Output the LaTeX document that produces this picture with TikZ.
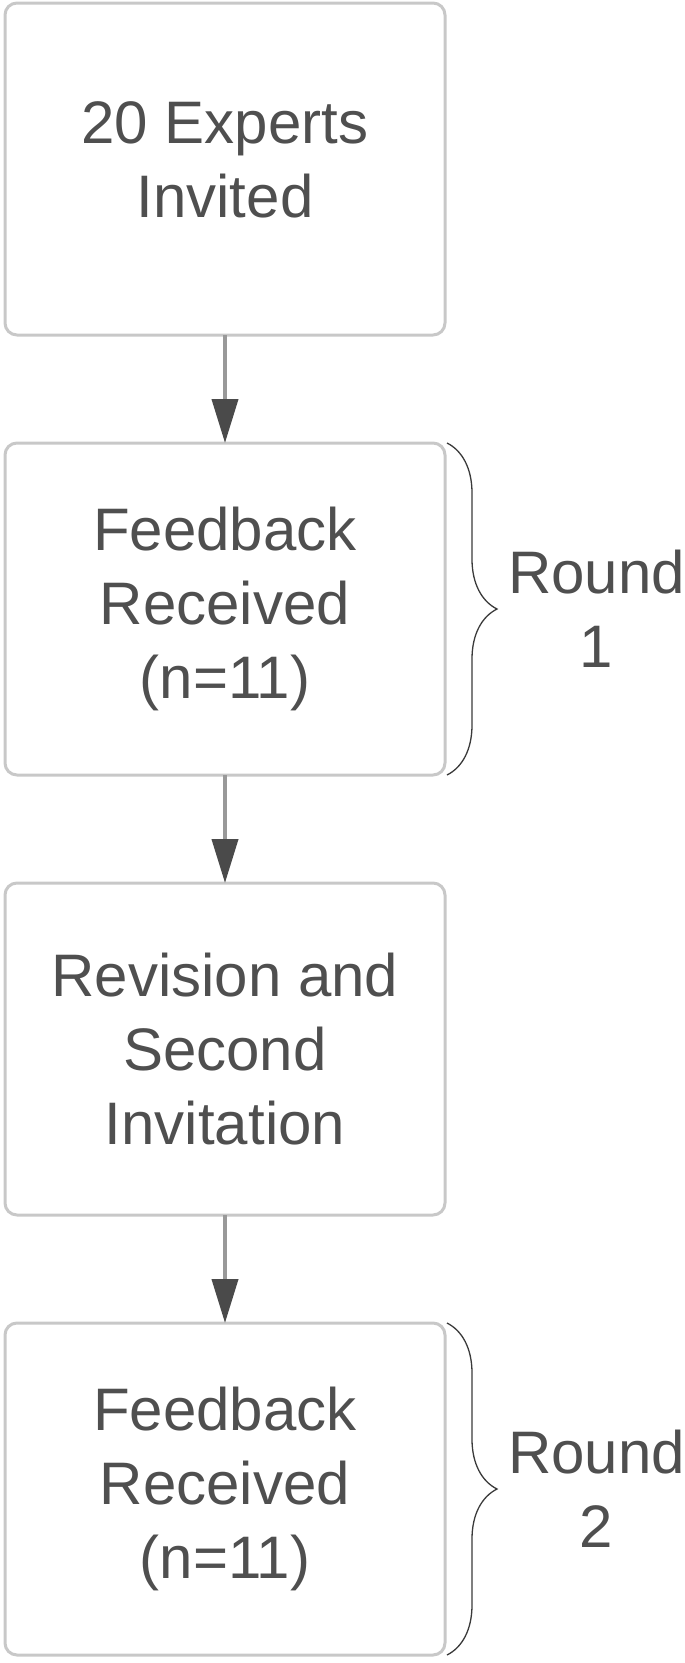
\documentclass[tikz,border=0pt]{standalone}
\usepackage{fontspec}
\setmainfont{Liberation Sans}
\usetikzlibrary{arrows.meta, positioning, calc, decorations.pathreplacing}
\definecolor{boxgrey}{HTML}{C8C8C8}
\definecolor{linegrey}{HTML}{999999}
\definecolor{tipgrey}{HTML}{4A4A4A}
\definecolor{textgrey}{HTML}{4F4F4F}
\definecolor{bracegrey}{HTML}{3A3A3A}

\begin{document}
\begin{tikzpicture}[x=1pt, y=1pt, node distance=108pt,
  stagebox/.style={rectangle, rounded corners=12pt, draw=boxgrey, line width=3pt,
    minimum width=440pt, minimum height=332pt, inner sep=0pt, outer sep=0pt, align=center,
    text=textgrey, font=\fontsize{60}{74}\selectfont},
  flow/.style={draw=linegrey, line width=4pt,
    -{Triangle[length=44pt, width=26pt, color=tipgrey]}},
  roundbrace/.style={decorate, decoration={brace, amplitude=50pt},
    draw=bracegrey, line width=1.3pt},
  roundlabel/.style={align=center, inner sep=0pt, text=textgrey,
    font=\fontsize{60}{74}\selectfont}]
  \useasboundingbox (0,0) rectangle (685,-1663);
  \node[stagebox] (invite) at (225,-169) {20 Experts\\Invited\\[-56pt]};
  \node[stagebox, below=of invite] (feedback1) {Feedback\\Received\\(n=11)};
  \node[stagebox, below=of feedback1] (revision) {Revision and\\Second\\Invitation};
  \node[stagebox, below=of revision] (feedback2) {Feedback\\Received\\(n=11)};

  \draw[flow] (invite) -- (feedback1);
  \draw[flow] (feedback1) -- (revision);
  \draw[flow] (revision) -- (feedback2);

  % braces for the two rounds
  \draw[roundbrace] ($(feedback1.north east)+(2pt,0)$) -- ($(feedback1.south east)+(2pt,0)$);
  \draw[roundbrace] ($(feedback2.north east)+(2pt,0)$) -- ($(feedback2.south east)+(2pt,0)$);
  \coordinate (tip1) at ($(feedback1.east)+(53pt,0)$);
  \coordinate (tip2) at ($(feedback2.east)+(53pt,0)$);
  \node[roundlabel, right=10pt of tip1] (round1) {Round\\1};
  \node[roundlabel, right=10pt of tip2] (round2) {Round\\2};
\end{tikzpicture}
\end{document}
